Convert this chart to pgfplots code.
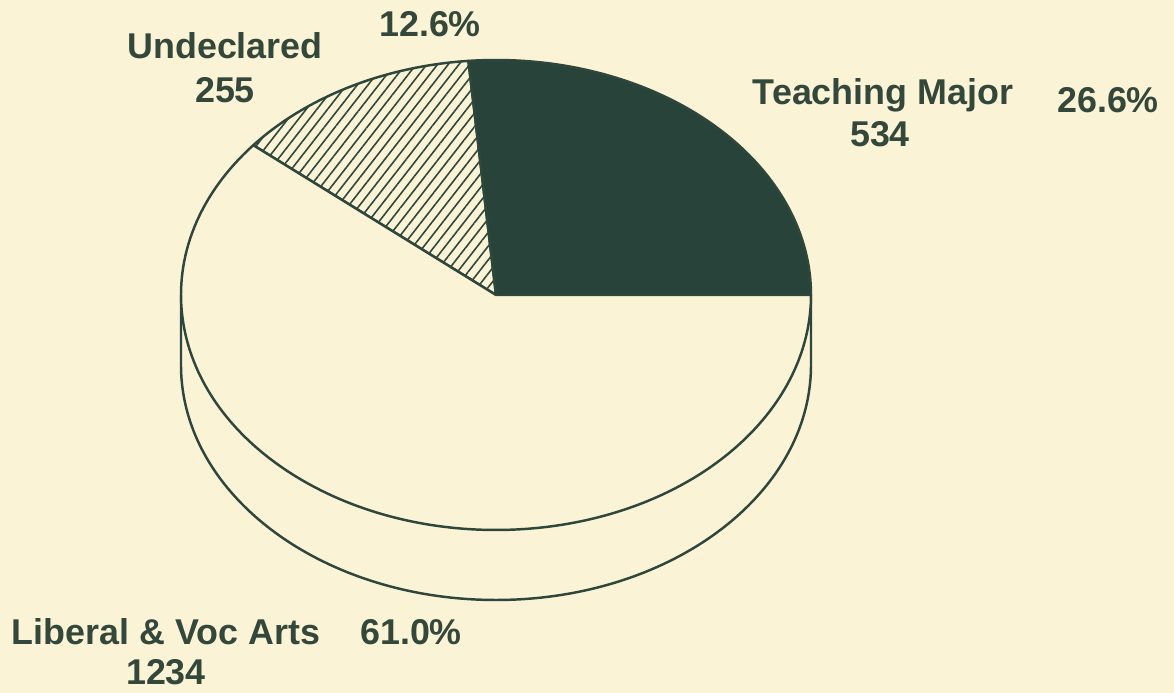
\documentclass[border=0pt]{standalone}
\usepackage{pgfplots}
\pgfplotsset{compat=1.18}
\usepackage{pgfplotstable}
\usepackage{fontspec}
\setmainfont{Liberation Sans}[BoldFont={Liberation Sans Bold}]
\newfontfamily\labfont{Liberation Sans Bold}
\usetikzlibrary{patterns.meta}
\definecolor{paper}{HTML}{FBF3D6}
\definecolor{ink}{HTML}{2E463B}
\definecolor{teach}{HTML}{27433A}
\definecolor{txt}{HTML}{34473B}
\tikzset{lab/.style={anchor=base, inner sep=0pt, text=txt, font=\labfont\fontsize{10.2}{12}\selectfont}}

\pgfplotstableread{
label count
Teaching 534
Undeclared 255
Liberal 1234
}\pietable

\begin{document}
\begin{tikzpicture}
\pgfplotstablegetelem{0}{count}\of\pietable \let\nT\pgfplotsretval
\pgfplotstablegetelem{1}{count}\of\pietable \let\nU\pgfplotsretval
\pgfplotstablegetelem{2}{count}\of\pietable \let\nL\pgfplotsretval
\pgfmathsetmacro\tot{\nT+\nU+\nL}
\pgfmathsetmacro\aT{360*(\nT/\tot)}
\pgfmathsetmacro\aU{\aT+360*(\nU/\tot)}
% cake centre (496,398), radii 315 x 235, depth 70 -- in axis units (1 unit = 0.01cm)
\pgfmathsetmacro\xT{496+315*cos(\aT)}
\pgfmathsetmacro\yT{398+235*sin(\aT)}
\pgfmathsetmacro\xU{496+315*cos(\aU)}
\pgfmathsetmacro\yU{398+235*sin(\aU)}
\begin{axis}[
    width=11.74cm, height=6.93cm, scale only axis,
    xmin=0, xmax=1174, ymin=0, ymax=693,
    hide axis, clip=false,
]
\fill[paper] (rel axis cs:0,0) rectangle (rel axis cs:1,1);
% side of the cake
\filldraw[draw=ink, fill=paper, line width=0.7pt]
    (axis cs:181,398) -- (axis cs:181,328)
    arc[start angle=180, end angle=360, x radius=3.15cm, y radius=2.35cm]
    -- (axis cs:811,398);
% top face
\filldraw[draw=ink, fill=teach, line width=0.7pt, line join=round]
    (axis cs:496,398) -- (axis cs:811,398)
    arc[start angle=0, end angle=\aT, x radius=3.15cm, y radius=2.35cm] -- cycle;
\draw[draw=ink, line width=0.7pt, line join=round,
      pattern={Lines[angle=52, distance=2.4pt, line width=0.45pt]}, pattern color=ink]
    (axis cs:496,398) -- (axis cs:\xT,\yT)
    arc[start angle=\aT, end angle=\aU, x radius=3.15cm, y radius=2.35cm] -- cycle;
\filldraw[draw=ink, fill=paper, line width=0.7pt, line join=round]
    (axis cs:496,398) -- (axis cs:\xU,\yU)
    arc[start angle=\aU, end angle=360, x radius=3.15cm, y radius=2.35cm] -- cycle;
% labels
\node[lab] at (axis cs:430,656) {12.6\%};
\node[lab] at (axis cs:225,634) {Undeclared};
\node[lab] at (axis cs:225,590) {255};
\node[lab] at (axis cs:883,588) {Teaching Major};
\node[lab] at (axis cs:880,546) {534};
\node[lab] at (axis cs:1108,580) {26.6\%};
\node[lab] at (axis cs:166,48) {Liberal \& Voc Arts};
\node[lab] at (axis cs:411,48) {61.0\%};
\node[lab] at (axis cs:166,8) {1234};
\end{axis}
\end{tikzpicture}
\end{document}
